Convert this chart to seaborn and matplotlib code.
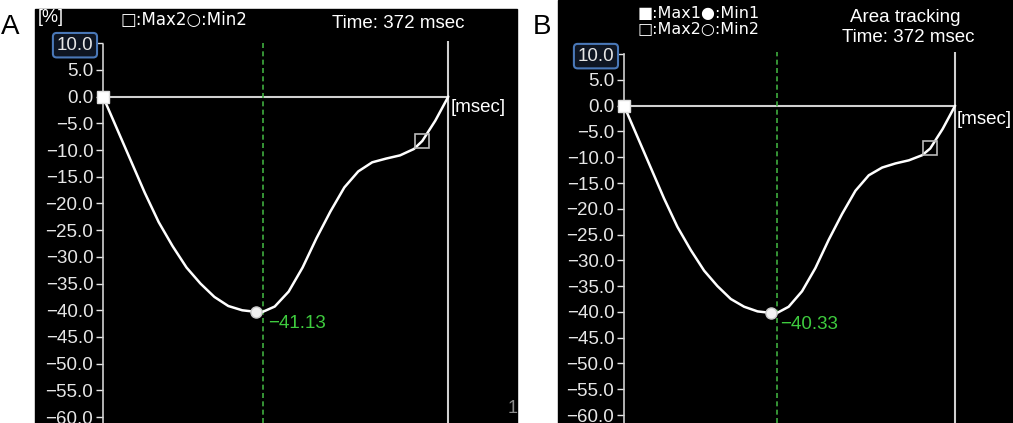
import numpy as np
import matplotlib
matplotlib.use("Agg")
import matplotlib.pyplot as plt
from matplotlib.patches import Rectangle
import seaborn as sns

sns.set_theme(style="white")
plt.rcParams['font.family'] = ['Liberation Sans', 'DejaVu Sans']

W, H = 1013, 423

# ---- data ----
# panel A : time (msec) / strain (%)
time_a = [0, 15, 30, 45, 60, 75, 90, 105, 120, 135, 150, 165, 172, 185, 200,
          215, 230, 245, 260, 275, 290, 305, 320, 335, 344, 358, 372]
strain_a = [0, -6, -12, -18, -23.5, -28, -32, -35, -37.5, -39.2, -40.0, -40.3,
            -40.3, -39.3, -36.5, -32, -26.5, -21.5, -17, -14, -12.3, -11.6,
            -11, -9.8, -8.3, -4.5, 0]
# panel B
time_b = [0, 15, 30, 45, 60, 75, 90, 105, 120, 135, 150, 165, 172, 185, 200,
          215, 230, 245, 260, 275, 290, 305, 320, 335, 344, 358, 372]
strain_b = [0, -6, -12, -18, -23.5, -28, -32, -35, -37.5, -39, -39.9, -40.2,
            -40.2, -39, -36, -31.5, -26, -21, -16.5, -13.5, -12, -11.2,
            -10.6, -9.6, -8.3, -4.5, 0]

min_time = 172
min_label_a = "\u221241.13"
min_label_b = "\u221240.33"
max2_time = 344
max2_val = -8.3
end_time = 372

yticks = list(range(-60, 11, 5))
ylabels = [("%.1f" % v).replace("-", "\u2212") for v in yticks]

sym_font = ['DejaVu Sans']


def px(x, y):
    return x / W, 1 - y / H


fig = plt.figure(figsize=(W / 100, H / 100), dpi=100)
fig.patch.set_facecolor('white')

# black backgrounds of the two screenshots
fig.add_artist(Rectangle(px(35, 423), (517 - 35) / W, 414 / H,
                         transform=fig.transFigure, color='black', zorder=-1))
fig.add_artist(Rectangle(px(558, 423), (1013 - 558) / W, 1,
                         transform=fig.transFigure, color='black', zorder=-1))

ax_a = fig.add_axes([103 / W, 0, (517 - 103) / W, 414 / H])
ax_b = fig.add_axes([624 / W, 0, (1013 - 624) / W, 1])

panels = [
    (ax_a, time_a, strain_a, (0, 446), (-61.1, 16.4)),
    (ax_b, time_b, strain_b, (0, 437), (-61.55, 20.5)),
]

for ax, t, s, xl, yl in panels:
    ax.set_facecolor('black')
    ax.set_xlim(*xl)
    ax.set_ylim(*yl)
    for side in ['top', 'right', 'bottom']:
        ax.spines[side].set_visible(False)
    ax.spines['left'].set_color('#d0d0d0')
    ax.spines['left'].set_linestyle((0, (3, 1)))
    ax.spines['left'].set_linewidth(1.2)
    ax.spines['left'].set_bounds(yl[0], 10)
    ax.set_xticks([])
    ax.set_yticks(yticks, ylabels)
    ax.tick_params(axis='y', colors='#e6e6e6', direction='out', length=5,
                   width=1, labelsize=13.5, pad=2, left=True)
    ax.get_yticklabels()[-1].set_bbox(dict(boxstyle='round,pad=0.2', fc='#0e1522',
                                            ec='#4a78b8', lw=1.5))

    ax.hlines(0, 0, end_time, color='#d0d0d0', lw=1.5)
    ax.vlines(end_time, yl[0], 10.5, color='#d0d0d0', lw=1.5)
    ax.vlines(min_time, yl[0], 10.5, color='#3fae3f', lw=1.2, linestyles=(0, (3, 2)))

    sns.lineplot(x=t, y=s, color='white', lw=1.8, ax=ax, legend=False)

    ax.plot(t[0], s[0], 's', ms=9, mfc='white', mec='#dddddd', clip_on=False, zorder=5)
    i_min = int(np.argmin(s))
    ax.plot(t[i_min], s[i_min], 'o', ms=8, mfc='#f2f2f2', mec='#c8c8c8', zorder=5)
    ax.plot(max2_time, max2_val, 's', ms=10, mfc='none', mec='#bbbbbb', mew=1.2, zorder=5)

# texts of panel A
fig.text(*px(38, 18), "[%]", color='white', fontsize=13, va='center')
fig.text(*px(120, 20), "\u25a1:Max2\u25cb:Min2", color='white', fontsize=12,
         va='center', family=sym_font)
fig.text(*px(398, 24), "Time: 372 msec", color='white', fontsize=13.5, va='center', ha='center')
fig.text(*px(451, 107), "[msec]", color='white', fontsize=13.5, va='center')
fig.text(*px(268, 323), min_label_a, color='#3ecb3e', fontsize=13.5, va='center')
fig.text(*px(508, 408), "1", color='#8a8a8a', fontsize=13, va='center')
fig.text(*px(1, 27), "A", color='black', fontsize=20, va='center')

# texts of panel B
fig.text(*px(638, 13), "\u25a0:Max1\u25cf:Min1", color='white', fontsize=11.5,
         va='center', family=sym_font)
fig.text(*px(638, 29), "\u25a1:Max2\u25cb:Min2", color='white', fontsize=11.5,
         va='center', family=sym_font)
fig.text(*px(905, 18), "Area tracking", color='white', fontsize=13.5, va='center', ha='center')
fig.text(*px(908, 38), "Time: 372 msec", color='white', fontsize=13.5, va='center', ha='center')
fig.text(*px(957, 120), "[msec]", color='white', fontsize=13.5, va='center')
fig.text(*px(780, 324), min_label_b, color='#3ecb3e', fontsize=13.5, va='center')
fig.text(*px(533, 27), "B", color='black', fontsize=20, va='center')

fig.savefig("out.png", dpi=100, facecolor='white')
